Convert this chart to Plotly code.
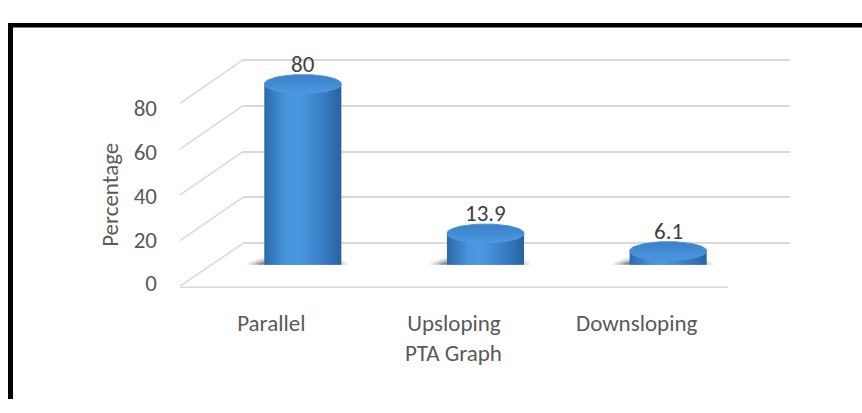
import numpy as np
import plotly.graph_objects as go

# ---------------- data ----------------
categories = ["Parallel", "Upsloping", "Downsloping"]
percentages = [80, 13.9, 6.1]
value_labels = ["80", "13.9", "6.1"]
y_ticks = [0, 20, 40, 60, 80]
x_title = "PTA Graph"
y_title = "Percentage"

# ---------------- helpers ----------------
W, H = 862, 413
def px(x):
    return x / W
def py(y):
    return (H - y) / H

FONT = "Carlito, Lato, Calibri, sans-serif"
GRAY = "#595959"
GRID = "#d9d9d9"
FS = 23

# pseudo-3D geometry (pixels)
FRONT_L, FRONT_R = 180, 728
DX = 63                       # depth offset of back wall
FRONT_Y0, FRONT_S = 292, 2.45  # front edge of side wall
BACK_Y0, BACK_S = 246, 2.46    # back wall
MID_DX = 31.5
MID_Y0, MID_S = 269, 2.425     # depth of the cylinders

fig = go.Figure()

# shadows under cylinders (soft, drawn as filled traces)
w = 0.211
e = 10 / MID_S
th = np.linspace(0, 2 * np.pi, 100)
for i, v in enumerate(percentages):
    for sw, sh, op in [(0.29, 5.8, 0.08), (0.27, 5.2, 0.12), (0.25, 4.6, 0.18), (0.23, 4.0, 0.26)]:
        fig.add_trace(go.Scatter(
            x=i - 0.03 + sw * np.cos(th), y=-1.2 + sh * np.sin(th),
            xaxis="x3", yaxis="y3", mode="lines", fill="toself",
            line=dict(width=0), fillcolor=f"rgba(30,30,30,{op})",
            hoverinfo="skip", showlegend=False))

# cylinders
body_scale = [[0, "#2C69AB"], [0.28, "#4894DD"], [0.45, "#4A98E2"],
              [0.8, "#3479BF"], [1, "#2A62A0"]]
for i, v in enumerate(percentages):
    th1 = np.linspace(np.pi, 2 * np.pi, 50)
    th2 = np.linspace(2 * np.pi, np.pi, 50)
    bx = np.concatenate([i + w * np.cos(th1), i + w * np.cos(th2)])
    by = np.concatenate([e * np.sin(th1), v + e * np.sin(th2)])
    fig.add_trace(go.Scatter(
        x=np.append(bx, bx[0]), y=np.append(by, by[0]),
        xaxis="x3", yaxis="y3", mode="lines", fill="toself",
        line=dict(width=0, color="#3479BF"),
        fillgradient=dict(type="horizontal", colorscale=body_scale),
        hoverinfo="skip", showlegend=False))
    fig.add_trace(go.Scatter(
        x=i + w * np.cos(th), y=v + e * np.sin(th),
        xaxis="x3", yaxis="y3", mode="lines", fill="toself",
        line=dict(width=1, color="#4A95DE"),
        fillgradient=dict(type="vertical", colorscale=[[0, "#4B97E0"], [1, "#3A80C8"]]),
        hoverinfo="skip", showlegend=False))

# dummy traces so the front and back subplots exist
fig.add_trace(go.Scatter(x=[None], y=[None], xaxis="x", yaxis="y",
                         showlegend=False, hoverinfo="skip"))
fig.add_trace(go.Scatter(x=[None], y=[None], xaxis="x2", yaxis="y2",
                         showlegend=False, hoverinfo="skip"))

shapes = []
# side-wall diagonals
for t in y_ticks:
    shapes.append(dict(type="line", xref="paper", yref="paper",
                       x0=px(FRONT_L), y0=py(FRONT_Y0 - t * FRONT_S),
                       x1=px(FRONT_L + DX), y1=py(BACK_Y0 - t * BACK_S),
                       line=dict(color=GRID, width=1.5), layer="below"))
# front floor edge
shapes.append(dict(type="line", xref="paper", yref="paper",
                   x0=px(FRONT_L), y0=py(FRONT_Y0 + 1), x1=px(FRONT_R), y1=py(FRONT_Y0 + 1),
                   line=dict(color=GRID, width=1.5), layer="below"))
# frame
shapes.append(dict(type="line", xref="paper", yref="paper",
                   x0=px(8), y0=py(12), x1=1, y1=py(12),
                   line=dict(color="black", width=4.5)))
shapes.append(dict(type="line", xref="paper", yref="paper",
                   x0=px(10.5), y0=py(10), x1=px(10.5), y1=0,
                   line=dict(color="black", width=5)))

annotations = []
for i, v in enumerate(percentages):
    annotations.append(dict(x=i, y=v + e, xref="x3", yref="y3", text=value_labels[i],
                            showarrow=False, xanchor="center", yanchor="bottom", yshift=-5,
                            font=dict(family=FONT, size=FS, color="#404040")))
annotations.append(dict(x=px(453), y=py(364), xref="paper", yref="paper", text=x_title,
                        xanchor="center", yanchor="middle",
                        showarrow=False, font=dict(family=FONT, size=FS, color=GRAY)))
annotations.append(dict(x=px(110), y=py(194), xref="paper", yref="paper", text=y_title,
                        xanchor="center", yanchor="middle",
                        textangle=-90, showarrow=False,
                        font=dict(family=FONT, size=FS, color=GRAY)))

yr = [-0.5, 80.5]
fig.update_layout(
    width=W, height=H, autosize=False,
    margin=dict(l=0, r=0, t=0, b=0),
    paper_bgcolor="white", plot_bgcolor="rgba(0,0,0,0)",
    font=dict(family=FONT, color=GRAY, size=FS),
    showlegend=False,
    xaxis=dict(domain=[px(FRONT_L), px(FRONT_R)], range=[-0.5, 2.5], anchor="y",
               tickmode="array", tickvals=list(range(len(categories))), ticktext=categories,
               showgrid=False, zeroline=False, showline=False, ticks="",
               ticklabelstandoff=24, tickfont=dict(size=FS, color=GRAY)),
    yaxis=dict(domain=[py(289), py(101)], range=[0, 80], anchor="free",
               position=px(182),
               tickmode="array", tickvals=y_ticks, showgrid=False, zeroline=False,
               showline=False, ticks="", ticklabelstandoff=25,
               tickfont=dict(size=FS, color=GRAY)),
    xaxis2=dict(domain=[px(FRONT_L + DX), px(790)], range=[0, 1], anchor="y2",
                visible=False),
    yaxis2=dict(domain=[py(BACK_Y0 - yr[0] * BACK_S), py(BACK_Y0 - yr[1] * BACK_S)],
                range=yr, anchor="x2", tickmode="array", tickvals=y_ticks,
                showgrid=True, gridcolor=GRID, gridwidth=1.5, zeroline=False,
                showline=False, showticklabels=False, ticks=""),
    xaxis3=dict(domain=[px(FRONT_L + MID_DX), px(FRONT_R + MID_DX)], range=[-0.5, 2.5],
                anchor="y3", visible=False),
    yaxis3=dict(domain=[py(MID_Y0), py(MID_Y0 - 100 * MID_S)], range=[0, 100],
                anchor="x3", visible=False),
    shapes=shapes,
    annotations=annotations,
)

fig.write_html("out.html")
